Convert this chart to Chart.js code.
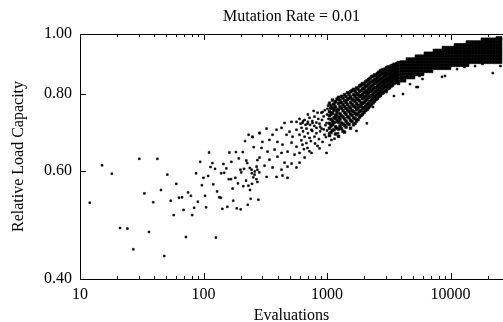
<!DOCTYPE html>
<html>
<head>
<meta charset="utf-8">
<script src="https://cdn.jsdelivr.net/npm/chart.js@4.4.1/dist/chart.umd.min.js"></script>
<style>
  html, body { margin: 0; padding: 0; background: #fff; overflow: hidden; }
</style>
</head>
<body>
<canvas id="loadChart" width="503" height="322"></canvas>
<script>
// sparse early evaluations [evaluations, relative load]
const sparsePoints = [
  [30.2,.627],[42.3,.627],[15.1,.612],[18.1,.593],[50.9,.591],[60.2,.571],[45.3,.558],[33.2,.551],
  [63.3,.542],[12.0,.532],[39.2,.533],[54.3,.536],[57.4,.508],[21.1,.484],[24.2,.483],[36.2,.477],
  [27.0,.447],[48.1,.436],
  [232,.686],[285,.690],[250,.680],[217,.670],[255,.655],[111,.642],[162,.642],[183,.643],[208,.643],
  [94,.620],[118,.617],[145,.615],[168,.620],[193,.628],[222,.623],[226,.617],[273,.624],[114,.608],
  [124,.604],[153,.605],[199,.602],[213,.604],[237,.606],[260,.598],[273,.602],[283,.596],[87,.594],
  [139,.594],[147,.595],[202,.596],[246,.594],[100,.584],[109,.588],[181,.584],[160,.581],[167,.581],
  [253,.585],[268,.581],[190,.572],[221,.578],[273,.575],[247,.571],[97,.568],[120,.570],[210,.566],
  [231,.567],[238,.558],[75,.553],[79,.546],[129,.555],[172,.561],[67,.543],[103,.546],[134,.543],
  [138,.542],[90,.534],[241,.540],[278,.538],[174,.536],[69,.518],[84,.522],[105,.523],[142,.520],
  [156,.524],[186,.521],[200,.519],[228,.528],[81,.508],[72,.468],[126,.467]
];

// 250 - 1300 evaluations
const midPoints = [
  [1262,.773],[1150,.761],[1009,.756],[920,.747],[838,.745],[1087,.745],[1194,.739],[792,.734],
  [722,.731],[658,.725],[599,.728],[566,.720],[516,.720],[453,.717],[633,.717],[695,.715],
  [763,.717],[869,.715],[991,.717],[1108,.720],[1216,.725],[822,.704],[903,.702],[749,.699],
  [682,.702],[622,.704],[566,.699],[497,.694],[428,.704],[390,.699],[324,.702],[284,.691],
  [362,.686],[470,.686],[526,.681],[599,.686],[658,.681],[722,.678],[792,.681],[955,.686],
  [1087,.673],[249,.681],[300,.668],[342,.673],[397,.668],[436,.661],[516,.666],[566,.656],
  [633,.661],[695,.653],[838,.658],[991,.641],[295,.653],[330,.644],[376,.649],[428,.641],
  [479,.644],[546,.637],[599,.641],[658,.630],[749,.641],[284,.630],[342,.625],[397,.632],
  [453,.618],[516,.616],[269,.609],[312,.611],[362,.607],[428,.602],[479,.609],[245,.602],
  [259,.591],[324,.586],[390,.586],[436,.589],[479,.584],[599,.618],[566,.607],
  [610,.715],[640,.722],[670,.712],[700,.720],[730,.712],[760,.722],[790,.709],[820,.718],
  [850,.728],[880,.707],[910,.725],[940,.735],[970,.711],[1000,.740],[1030,.728],[640,.695],
  [700,.690],[760,.696],[820,.690],[880,.695],[940,.700],[1000,.697],[620,.672],[680,.665],
  [740,.670],[800,.664],[860,.675],[920,.668],[980,.680],[1040,.690],[900,.745],[960,.752],
  [1020,.765],[1060,.757],[1120,.770],[1180,.777],[1240,.783],[700,.740],[780,.750],[650,.650],
  [720,.645],[870,.652],[1050,.660],[1150,.676],[1230,.690]
];

// rising cloud, 1000 - 4000 evaluations: loads per evaluation count
const cloudEvals = [
  1047,1077,1108,1140,1172,1205,1239,1274,1310,1348,1386,1426,1466,1508,1550,1594,1639,1686,
  1733,1783,1833,1885,1938,1994,2050,2108,2167,2229,2292,2357,2424,2493,2563,2637,2711,2789,
  2867,2949,3031,3118,3206,3297,3390,3487,3585,3688,3791
];
const cloudLoad = [
  [.772,.748,.737,.716,.703,.684],
  [.764,.741,.727,.709,.692],
  [.781,.757,.744,.722,.713,.697],
  [.769,.752,.731,.718,.699],
  [.776,.761,.738,.729,.707,.688],
  [.784,.754,.746,.721,.703],
  [.789,.771,.753,.733,.719,.701,.682],
  [.781,.762,.742,.727,.709],
  [.792,.774,.758,.736,.717,.702],
  [.787,.768,.751,.733,.714,.695],
  [.797,.779,.762,.745,.728,.711,.693],
  [.791,.774,.757,.741,.722,.706],
  [.803,.782,.768,.752,.734,.716],
  [.798,.786,.762,.748,.731,.713],
  [.806,.791,.774,.758,.741,.724,.703],
  [.809,.784,.769,.751,.738,.721],
  [.813,.797,.781,.764,.748,.731,.712],
  [.808,.792,.777,.761,.743,.729,.716],
  [.817,.801,.786,.771,.753,.739,.722],
  [.814,.797,.782,.766,.757,.742,.726],
  [.823,.806,.791,.779,.762,.748,.733],
  [.826,.809,.794,.773,.764,.751,.737],
  [.831,.814,.798,.785,.771,.756,.741],
  [.828,.817,.803,.788,.774,.759,.746],
  [.836,.821,.809,.792,.779,.763,.751],
  [.839,.824,.806,.797,.783,.768,.754],
  [.843,.829,.814,.801,.788,.772,.759],
  [.847,.833,.818,.806,.791,.777,.764],
  [.852,.836,.823,.809,.795,.781,.769],
  [.854,.839,.826,.813,.799,.786,.773],
  [.858,.843,.831,.817,.803,.791,.778],
  [.856,.846,.834,.819,.807,.795,.783],
  [.863,.851,.838,.824,.811,.799,.786],
  [.867,.854,.842,.828,.816,.803,.792],
  [.871,.858,.845,.833,.819,.807,.795],
  [.874,.862,.847,.836,.824,.812,.801],
  [.873,.863,.852,.839,.828,.816,.803],
  [.877,.866,.855,.843,.832,.821,.809],
  [.881,.869,.858,.846,.836,.823,.812],
  [.884,.873,.862,.849,.838,.827,.816],
  [.882,.874,.861,.852,.841,.829,.818],
  [.887,.876,.866,.855,.844,.834,.823],
  [.889,.879,.869,.857,.847,.837,.826],
  [.893,.882,.872,.861,.851,.840,.831],
  [.891,.884,.873,.863,.853,.843,.834],
  [.896,.886,.876,.866,.856,.846,.837],
  [.899,.889,.879,.869,.859,.849,.839,.831]
];

// saturated band, 4000+ evaluations
const bandEvals = [
  4009,4240,4484,4741,5014,5302,5607,5929,6270,6631,7012,7415,7841,8292,8769,9273,9806,
  10370,10970,11600,12260,12970,13720,14500,15340,16220,17150,18140,19180,20290,21450,22680,
  23990,25370
];
const bandLoad = [
  [.90,.89,.88,.87,.86,.85,.84],
  [.90,.89,.88,.87,.86,.85,.84],
  [.91,.90,.89,.88,.87,.86,.85],
  [.91,.90,.89,.88,.87,.86,.85],
  [.91,.90,.89,.88,.87,.86,.85],
  [.92,.91,.90,.89,.88,.87,.86],
  [.92,.91,.90,.89,.88,.87,.86],
  [.92,.91,.90,.89,.88,.87,.86],
  [.93,.92,.91,.90,.89,.88,.87],
  [.93,.92,.91,.90,.89,.88,.87],
  [.93,.92,.91,.90,.89,.88,.87],
  [.94,.93,.92,.91,.90,.89,.88],
  [.94,.93,.92,.91,.90,.89,.88],
  [.94,.93,.92,.91,.90,.89,.88],
  [.95,.94,.93,.92,.91,.90,.89,.88],
  [.95,.94,.93,.92,.91,.90,.89,.88],
  [.95,.94,.93,.92,.91,.90,.89,.88],
  [.95,.94,.93,.92,.91,.90,.89],
  [.96,.95,.94,.93,.92,.91,.90,.89],
  [.96,.95,.94,.93,.92,.91,.90,.89],
  [.96,.95,.94,.93,.92,.91,.90,.89],
  [.96,.95,.94,.93,.92,.91,.90,.89],
  [.97,.96,.95,.94,.93,.92,.91,.90,.89],
  [.97,.96,.95,.94,.93,.92,.91,.90],
  [.97,.96,.95,.94,.93,.92,.91,.90],
  [.97,.96,.95,.94,.93,.92,.91,.90],
  [.97,.96,.95,.94,.93,.92,.91,.90],
  [.98,.97,.96,.95,.94,.93,.92,.91,.90],
  [.98,.97,.96,.95,.94,.93,.92,.91,.90],
  [.98,.97,.96,.95,.94,.93,.92,.91,.90],
  [.98,.97,.96,.95,.94,.93,.92,.91,.90],
  [.98,.97,.96,.95,.94,.93,.92,.91,.90],
  [.985,.98,.97,.96,.95,.94,.93,.92,.91,.90],
  [.985,.98,.97,.96,.95,.94,.93,.92,.91,.90]
];

// stragglers below the band
const outlierPoints = [
  [5607,.855],[5440,.820],[5929,.845],[8530,.852],[9020,.855],[11300,.877],[12970,.884],
  [15800,.887],[18140,.894],[22000,.864],[25370,.887],[3480,.793],[4120,.799],[4700,.829],
  [3031,.805],[2360,.761],[2100,.716],[1733,.696],[5300,.820]
];

const xMajor = [10, 100, 1000, 10000];
const xMinor = [20,30,40,50,60,70,80,90,200,300,400,500,600,700,800,900,
  2000,3000,4000,5000,6000,7000,8000,9000,20000];
const yMajor = [0.40, 0.60, 0.80, 1.00];

var scattered = sparsePoints.concat(midPoints, outlierPoints).map(p => ({x: p[0], y: p[1]}));
var cloud = [];
cloudEvals.forEach((e, i) => cloudLoad[i].forEach(v => cloud.push({x: e, y: v})));
var band = [];
bandEvals.forEach((e, i) => bandLoad[i].forEach(v => band.push({x: e, y: v})));

// gnuplot style frame: inward ticks, top border
const frameTicks = {
  id: 'frameTicks',
  beforeDatasetsDraw(chart) {
    const {ctx, chartArea: a, scales: {x, y}} = chart;
    ctx.save();
    ctx.strokeStyle = '#000';
    ctx.lineWidth = 1;
    ctx.beginPath();
    ctx.moveTo(a.left + 0.5, a.top + 0.5);
    ctx.lineTo(a.left + 0.5, a.bottom + 0.5);
    ctx.lineTo(a.right, a.bottom + 0.5);
    ctx.moveTo(a.left, a.top + 0.5);
    ctx.lineTo(a.right, a.top + 0.5);
    const tick = (v, len) => {
      const px = Math.round(x.getPixelForValue(v)) + 0.5;
      ctx.moveTo(px, a.bottom); ctx.lineTo(px, a.bottom - len);
      ctx.moveTo(px, a.top); ctx.lineTo(px, a.top + len);
    };
    xMajor.forEach(v => tick(v, 6));
    xMinor.forEach(v => tick(v, 3));
    yMajor.forEach(v => {
      const py = Math.round(y.getPixelForValue(v)) + 0.5;
      ctx.moveTo(a.left, py); ctx.lineTo(a.left + 6, py);
    });
    ctx.stroke();
    ctx.restore();
  }
};

Chart.defaults.font.family = "'Liberation Serif', 'DejaVu Serif', serif";
Chart.defaults.font.size = 16;
Chart.defaults.color = '#000';

var ctx = document.getElementById('loadChart');
var loadChart = new Chart(ctx, {
  type: 'scatter',
  data: {
    datasets: [
      {
        label: 'scattered',
        data: scattered,
        pointStyle: 'rect',
        pointRadius: 1.3,
        borderWidth: 0.6,
        backgroundColor: '#000',
        borderColor: '#000',
      },
      {
        label: 'cloud',
        data: cloud,
        pointStyle: 'rect',
        pointRadius: 1.9,
        borderWidth: 0.6,
        backgroundColor: '#000',
        borderColor: '#000',
      },
      {
        label: 'band',
        data: band,
        pointStyle: 'rect',
        pointRadius: 2.1,
        borderWidth: 0.6,
        backgroundColor: '#000',
        borderColor: '#000',
      },
    ],
  },
  options: {
    responsive: false,
    animation: false,
    devicePixelRatio: 1,
    layout: { padding: 0, autoPadding: false },
    plugins: {
      legend: { display: false },
      tooltip: { enabled: false },
      title: {
        display: true,
        text: 'Mutation Rate = 0.01',
        fullSize: false,
        font: { size: 16, weight: 'normal' },
        padding: { top: 7, bottom: 7.8 },
      },
    },
    scales: {
      x: {
        type: 'logarithmic',
        min: 10,
        max: 26600,
        afterFit: s => { s.height = 43; },
        afterBuildTicks: s => { s.ticks = xMajor.map(v => ({value: v})); },
        grid: { display: false, drawTicks: false },
        border: { display: false },
        ticks: { autoSkip: false, maxRotation: 0, padding: 6, callback: v => String(v) },
        title: { display: true, text: 'Evaluations', font: { size: 16, lineHeight: 0.8 }, padding: 0 },
      },
      y: {
        type: 'logarithmic',
        min: 0.4,
        max: 1.0,
        afterFit: s => { s.width = 80; },
        afterBuildTicks: s => { s.ticks = yMajor.map(v => ({value: v})); },
        grid: { display: false, drawTicks: false },
        border: { display: false },
        ticks: { autoSkip: false, padding: 8, callback: v => Number(v).toFixed(2) },
        title: { display: true, text: 'Relative Load Capacity', font: { size: 16 }, padding: { top: 9, bottom: 0 } },
      },
    },
  },
  plugins: [frameTicks],
});
</script>
</body>
</html>
